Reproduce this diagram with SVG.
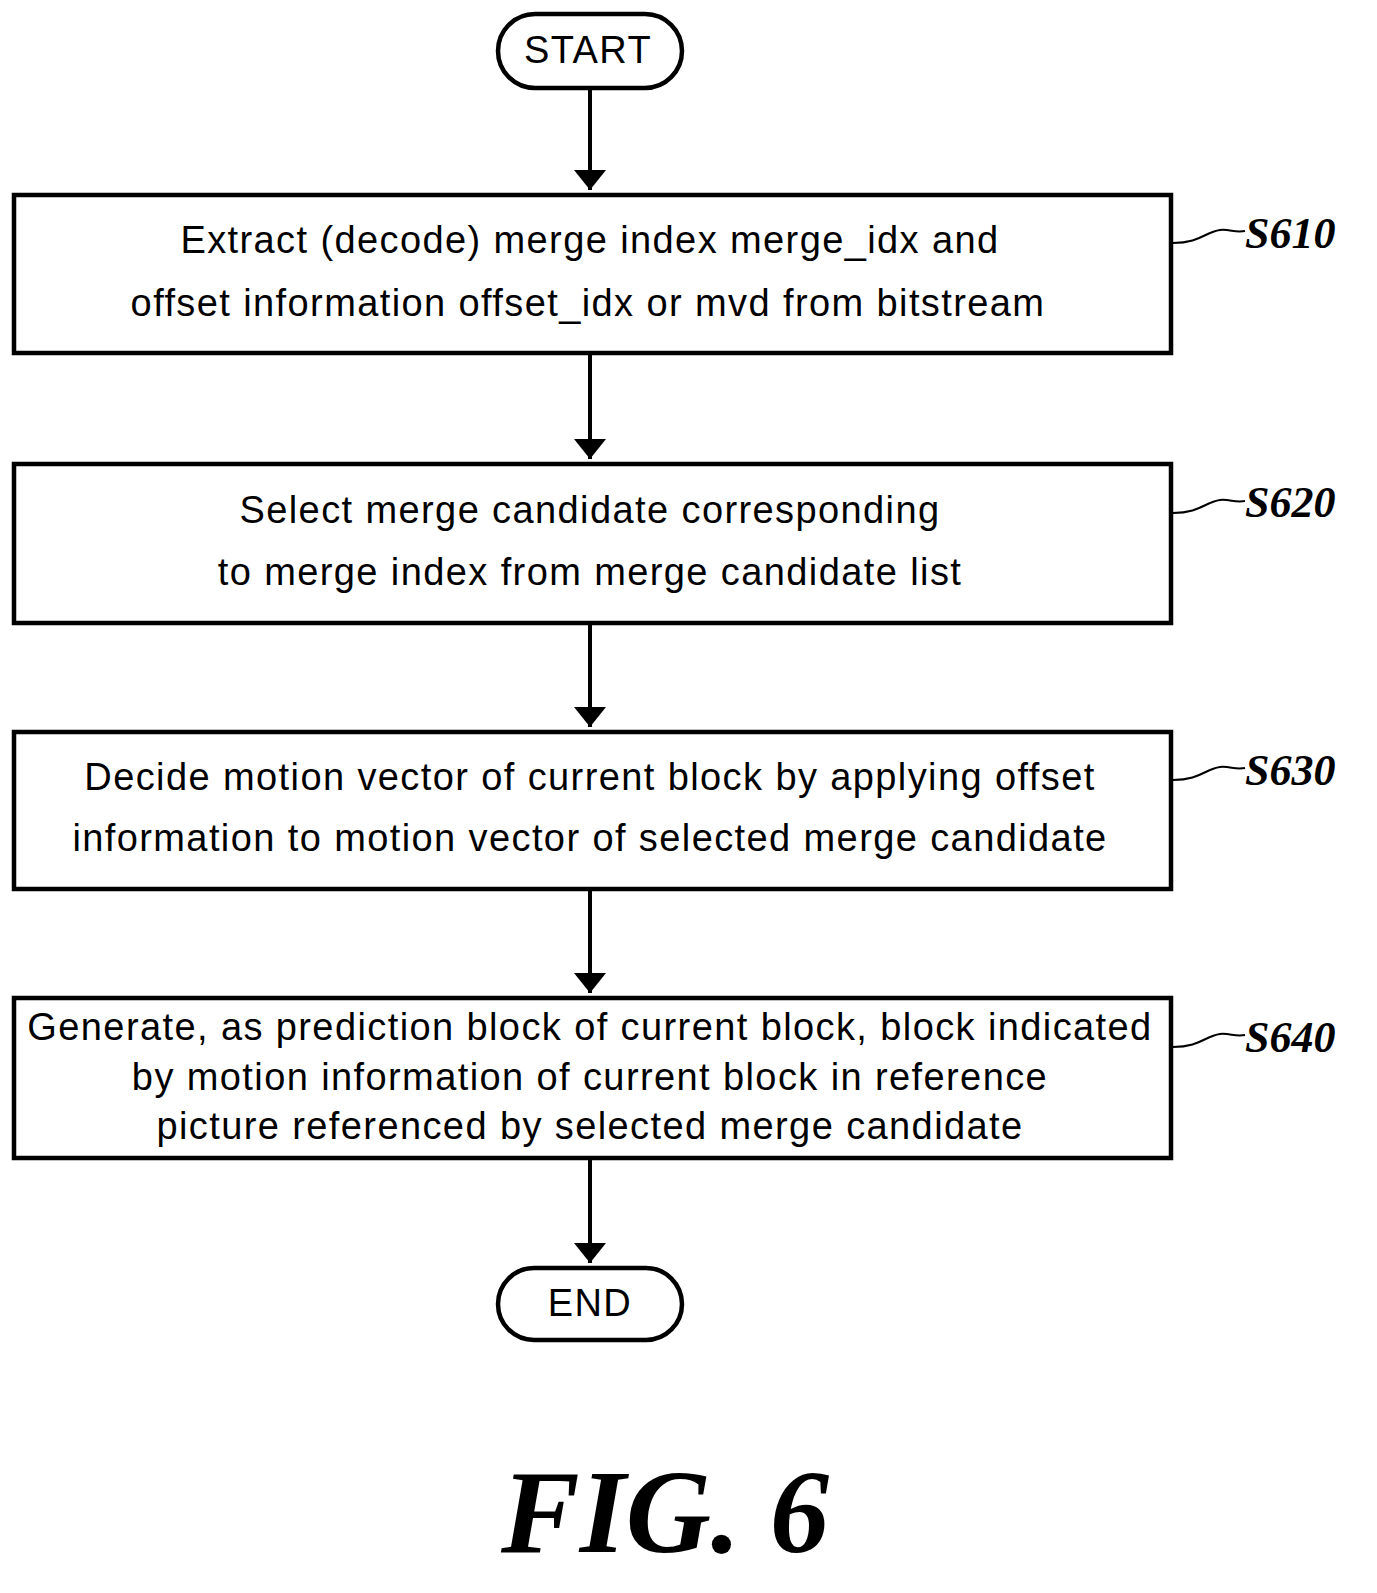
<svg xmlns="http://www.w3.org/2000/svg" width="1377" height="1593" viewBox="0 0 1377 1593">
<style>
.b{fill:#fff;stroke:#000;stroke-width:4.5}
.t{font-family:"Liberation Sans",Arial,sans-serif;font-size:38px;text-anchor:middle;fill:#000;letter-spacing:1.4px}
.l{font-family:"Liberation Serif","Times New Roman",serif;font-size:44px;font-style:italic;font-weight:bold;fill:#000}
.c{fill:none;stroke:#000;stroke-width:4}
.q{fill:none;stroke:#000;stroke-width:2}
</style>
<defs><marker id="a" markerWidth="6" markerHeight="8" refX="5" refY="4" orient="auto" markerUnits="strokeWidth"><path d="M0,0L5,4L0,8z" fill="#000"/></marker></defs>
<rect width="1377" height="1593" fill="#fff"/>
<g id="connectors">
<line class="c" x1="590" y1="88" x2="590" y2="190" marker-end="url(#a)"/>
<line class="c" x1="590" y1="355" x2="590" y2="459" marker-end="url(#a)"/>
<line class="c" x1="590" y1="625" x2="590" y2="727" marker-end="url(#a)"/>
<line class="c" x1="590" y1="891" x2="590" y2="993" marker-end="url(#a)"/>
<line class="c" x1="590" y1="1160" x2="590" y2="1263" marker-end="url(#a)"/>
<path class="q" d="M1173,243 C1200,243 1205,232 1220,230 C1230,229 1235,233 1245,231"/>
<path class="q" d="M1173,513 C1200,513 1205,502 1220,500 C1230,499 1235,503 1245,501"/>
<path class="q" d="M1173,780 C1200,780 1205,769 1220,767 C1230,766 1235,770 1245,768"/>
<path class="q" d="M1173,1047 C1200,1047 1205,1036 1220,1034 C1230,1033 1235,1037 1245,1035"/>
</g>
<g id="start"><rect class="b" x="498" y="14" width="184" height="74" rx="37"/><text class="t" x="588" y="63">START</text></g>
<g id="s610"><rect class="b" x="14" y="195" width="1157" height="158"/><text class="t" x="590" y="253">Extract (decode) merge index merge_idx and</text><text class="t" x="588" y="316">offset information offset_idx or mvd from bitstream</text><text class="l" x="1245" y="248">S610</text></g>
<g id="s620"><rect class="b" x="14" y="464" width="1157" height="159"/><text class="t" x="590" y="523">Select merge candidate corresponding</text><text class="t" x="590" y="585">to merge index from merge candidate list</text><text class="l" x="1245" y="517">S620</text></g>
<g id="s630"><rect class="b" x="14" y="732" width="1157" height="157"/><text class="t" x="590" y="790">Decide motion vector of current block by applying offset</text><text class="t" x="590" y="851">information to motion vector of selected merge candidate</text><text class="l" x="1245" y="785">S630</text></g>
<g id="s640"><rect class="b" x="14" y="998" width="1157" height="160"/><text class="t" x="590" y="1040">Generate, as prediction block of current block, block indicated</text><text class="t" x="590" y="1090">by motion information of current block in reference</text><text class="t" x="590" y="1139">picture referenced by selected merge candidate</text><text class="l" x="1245" y="1052">S640</text></g>
<g id="end"><rect class="b" x="498" y="1268" width="184" height="72" rx="36"/><text class="t" x="590" y="1316">END</text></g>
<text x="665" y="1552" font-family="Liberation Serif,serif" font-size="118" font-style="italic" font-weight="bold" text-anchor="middle">FIG. 6</text>
</svg>
